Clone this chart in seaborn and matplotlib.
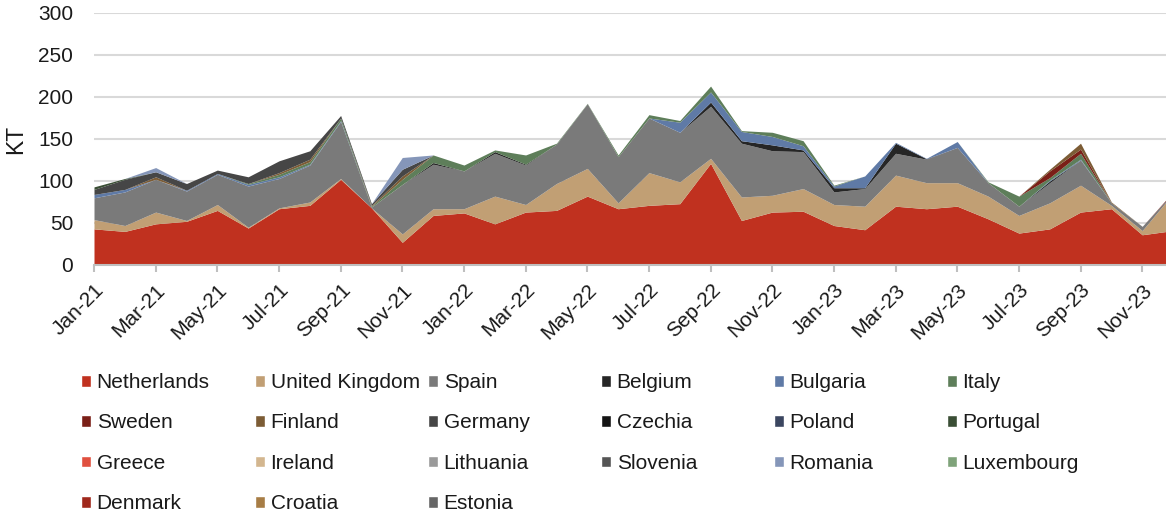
import numpy as np
import pandas as pd
import matplotlib
matplotlib.use('Agg')
import matplotlib.pyplot as plt
from matplotlib.patches import Rectangle
import seaborn as sns

months = ['Jan-21', 'Feb-21', 'Mar-21', 'Apr-21', 'May-21', 'Jun-21',
          'Jul-21', 'Aug-21', 'Sep-21', 'Oct-21', 'Nov-21', 'Dec-21',
          'Jan-22', 'Feb-22', 'Mar-22', 'Apr-22', 'May-22', 'Jun-22',
          'Jul-22', 'Aug-22', 'Sep-22', 'Oct-22', 'Nov-22', 'Dec-22',
          'Jan-23', 'Feb-23', 'Mar-23', 'Apr-23', 'May-23', 'Jun-23',
          'Jul-23', 'Aug-23', 'Sep-23', 'Oct-23', 'Nov-23', 'Dec-23']

# KT per month, one list per country (stack order = legend order)
netherlands = [43, 40, 49, 52, 65, 44, 67, 71, 102, 68, 27, 59,
               62, 49, 63, 65, 82, 67, 71, 73, 121, 53, 63, 64,
               47, 42, 70, 67, 70, 55, 38, 43, 63, 67, 36, 41]
united_kingdom = [11, 7, 14, 1, 7, 1, 1, 4, 1, 0, 10, 8,
                  5, 33, 9, 32, 33, 7, 39, 26, 6, 28, 20, 27,
                  25, 28, 37, 31, 28, 27, 21, 31, 32, 4, 5, 44]
spain = [26, 40, 39, 35, 36, 49, 35, 44, 68, 1, 59, 53,
         45, 51, 47, 47, 77, 55, 65, 59, 62, 64, 53, 44,
         15, 21, 26, 28, 42, 16, 11, 24, 30, 3, 5, 1]
belgium = [0, 0, 0, 0, 0, 0, 0, 0, 0, 0, 0, 2,
           0, 2, 1, 0, 0, 0, 0, 0, 5, 3, 7, 2,
           5, 1, 12, 0.5, 0, 0, 0, 2, 0, 0, 0, 0]
bulgaria = [4, 3, 0, 1, 1, 2, 2, 1, 1, 0, 0, 0,
            0, 0, 0, 0, 0, 0, 0, 12, 12, 11, 10, 5,
            2, 14, 1, 0.5, 7, 0, 0, 1, 1, 0, 0, 0]
italy = [0, 0, 0, 0, 0, 1, 3, 3, 3, 1, 6, 9,
         7, 2, 11, 1, 0.5, 2, 4, 2, 7, 1, 5, 6,
         1, 0, 0, 0, 0, 1, 12, 3, 7, 0, 0, 0]
sweden = [0] * 31 + [8, 5, 0, 0, 1]
finland = [0, 0, 3, 0, 0, 0, 2, 3, 0, 1, 4, 0,
           0, 0, 0, 0, 0, 0, 0, 0, 0, 0, 0, 0,
           0, 0, 0, 0, 0, 0, 0, 2, 7, 1, 0, 0]
germany = [6, 12, 6, 8, 4, 8, 14, 10, 3, 2, 8, 0] + [0] * 24
czechia = [0] * 36
poland = [0] * 36
portugal = [3, 1] + [0] * 34
greece = [0] * 36
ireland = [0] * 36
lithuania = [0] * 36
slovenia = [0] * 36
romania = [0, 0, 5, 0, 0, 0, 0, 0, 0, 0, 14, 0] + [0] * 24
luxembourg = [0] * 36
denmark = [0] * 36
croatia = [0] * 36
estonia = [0] * 36

countries = ['Netherlands', 'United Kingdom', 'Spain', 'Belgium', 'Bulgaria', 'Italy',
             'Sweden', 'Finland', 'Germany', 'Czechia', 'Poland', 'Portugal',
             'Greece', 'Ireland', 'Lithuania', 'Slovenia', 'Romania', 'Luxembourg',
             'Denmark', 'Croatia', 'Estonia']
colors = ['#c0311f', '#c19f74', '#7a7a7a', '#262626', '#5f7aa6', '#5e7e5a',
          '#7a1f17', '#7c5c35', '#464646', '#141414', '#3b4660', '#3a4e35',
          '#e0503f', '#d3b68f', '#9a9a9a', '#555555', '#8596b9', '#7fa37a',
          '#a0281c', '#a77d45', '#666666']

df = pd.DataFrame({
    'Netherlands': netherlands, 'United Kingdom': united_kingdom, 'Spain': spain,
    'Belgium': belgium, 'Bulgaria': bulgaria, 'Italy': italy,
    'Sweden': sweden, 'Finland': finland, 'Germany': germany,
    'Czechia': czechia, 'Poland': poland, 'Portugal': portugal,
    'Greece': greece, 'Ireland': ireland, 'Lithuania': lithuania,
    'Slovenia': slovenia, 'Romania': romania, 'Luxembourg': luxembourg,
    'Denmark': denmark, 'Croatia': croatia, 'Estonia': estonia,
}, index=months)

sns.set_theme(style='white')
plt.rcParams['font.family'] = ['Liberation Sans', 'DejaVu Sans']
FS = 15

W, H = 1166, 514
fig = plt.figure(figsize=(W / 100, H / 100), dpi=100)
# plot area in pixels: left 94, top 13, bottom 265, last month just off the right edge
ax = fig.add_axes([94 / W, 1 - 265 / H, (W - 94) / W, (265 - 13) / H])

x = np.arange(len(months))
ax.stackplot(x, df[countries].T.values, colors=colors, linewidth=0)

ax.set_ylim(0, 300)
ax.set_yticks(range(0, 301, 50))
ax.set_xlim(0, 35 * (W - 94) / (1173 - 94))
ax.set_xticks(x[::2])
ax.set_xticklabels(months[::2], rotation=45, ha='right', rotation_mode='anchor')

ax.yaxis.grid(True, color='#d9d9d9', linewidth=1.5)
ax.set_axisbelow(True)
sns.despine(ax=ax, left=True, top=True, right=True)
ax.spines['bottom'].set_color('#bfbfbf')
ax.spines['bottom'].set_linewidth(1.5)
ax.tick_params(axis='y', length=0, pad=15, labelsize=FS, labelcolor='#1a1a1a')
ax.tick_params(axis='x', bottom=True, length=5, width=1.5, color='#bfbfbf',
               pad=6, labelsize=FS, labelcolor='#1a1a1a')
ax.set_ylabel('KT', fontsize=FS + 1.5, color='#1a1a1a', labelpad=8)

# legend: 6 columns, fixed column pitch like the original
col_x = [81, 255, 428, 601, 774, 947]
for c in range(6):
    names = countries[c::6]
    handles = [Rectangle((0, 0), 1, 1, facecolor=colors[countries.index(n)]) for n in names]
    fig.legend(handles, names, loc='upper left',
               bbox_to_anchor=(col_x[c] / W, 1 - 373 / H),
               frameon=False, fontsize=FS, handlelength=0.5, handleheight=0.5,
               handletextpad=0.25, labelspacing=1.03, borderaxespad=0,
               borderpad=0, labelcolor='#1a1a1a')

fig.savefig('out.png', dpi=100)
